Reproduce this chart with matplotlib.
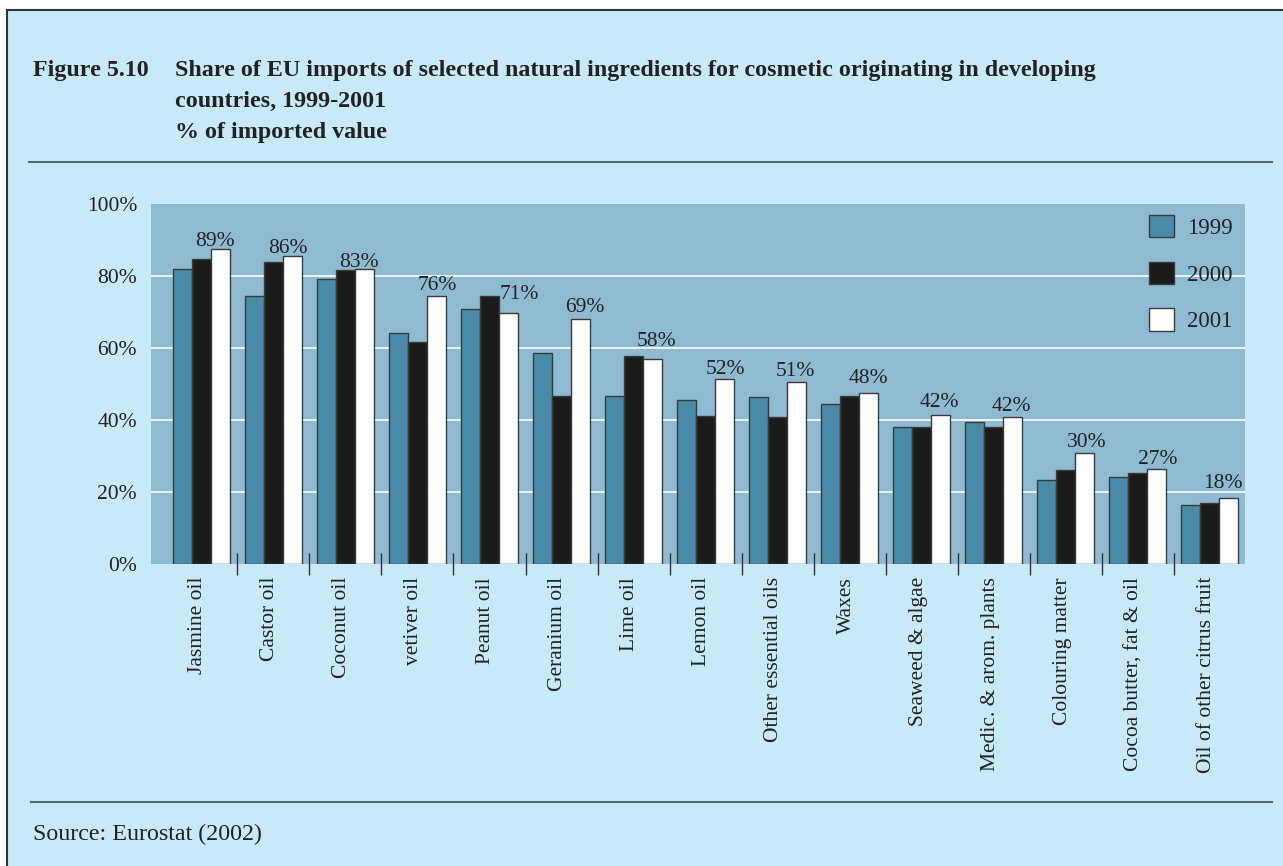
import matplotlib.pyplot as plt
import numpy as np
from matplotlib.patches import Rectangle
from matplotlib.lines import Line2D

# Values (% of imported value)
categories = ["Jasmine oil", "Castor oil", "Coconut oil", "vetiver oil", "Peanut oil",
              "Geranium oil", "Lime oil", "Lemon oil", "Other essential oils", "Waxes",
              "Seaweed & algae", "Medic. & arom. plants", "Colouring matter",
              "Cocoa butter, fat & oil", "Oil of other citrus fruit"]
y1999 = [81.9, 74.4, 79.1, 64.3, 70.9, 58.7, 46.6, 45.6, 46.4, 44.4, 38.1, 39.4, 23.2, 24.3, 16.4]
y2000 = [84.6, 83.9, 81.6, 61.7, 74.4, 46.8, 57.8, 41.0, 40.7, 46.6, 38.1, 38.1, 26.1, 25.2, 16.9]
y2001 = [87.4, 85.6, 81.9, 74.4, 69.8, 68.0, 56.9, 51.3, 50.5, 47.4, 41.3, 40.9, 30.7, 26.3, 18.4]
value_labels = ["89%", "86%", "83%", "76%", "71%", "69%", "58%", "52%", "51%", "48%",
                "42%", "42%", "30%", "27%", "18%"]
years = ["1999", "2000", "2001"]
yticks = [0, 20, 40, 60, 80, 100]

# small hand nudges of the value labels (pixels), as in the original layout
label_dx = [-5, -5, -6, 1, 11, 4, 4, 1, -1, 0, -1, -1, 2, 1, -6]
label_dy = [3, 3, 2, 6, 14, 7, 13, 5, 6, 10, 8, 6, 6, 5, 10]

bg = "#c7e9f8"
plot_bg = "#8fbbd2"
colors = ["#4a8ba8", "#1b1b1b", "#ffffff"]
serif = ["Liberation Serif", "DejaVu Serif"]
plt.rcParams["font.family"] = serif

W, H = 1283, 866
fig = plt.figure(figsize=(W / 100, H / 100), dpi=100, facecolor="white")

# light blue panel with border on top and left
fig.patches.append(Rectangle((7 / W, 0), 1 - 7 / W, 1 - 10 / H, transform=fig.transFigure,
                             facecolor=bg, edgecolor="none", zorder=-10))
fig.add_artist(Line2D([7 / W, 1], [1 - 10 / H, 1 - 10 / H], color="#333333", lw=1.5, zorder=-5))
fig.add_artist(Line2D([7 / W, 7 / W], [0, 1 - 10 / H], color="#333333", lw=1.5, zorder=-5))
# separators
fig.add_artist(Line2D([29 / W, 1272 / W], [1 - 162 / H] * 2, color="#5b656d", lw=1.5, zorder=-5))
fig.add_artist(Line2D([31 / W, 1272 / W], [1 - 802 / H] * 2, color="#5b656d", lw=1.5, zorder=-5))

# title block
fig.text(33 / W, 1 - 76 / H, "Figure 5.10", fontsize=17.3, fontweight="bold", color="#222222")
title_lines = ["Share of EU imports of selected natural ingredients for cosmetic originating in developing",
               "countries, 1999-2001",
               "% of imported value"]
for k, line in enumerate(title_lines):
    fig.text(175 / W, 1 - (76 + 31 * k) / H, line, fontsize=17.3, fontweight="bold", color="#222222")
fig.text(33 / W, 1 - 840 / H, "Source: Eurostat (2002)", fontsize=17.3, color="#222222")

ax = fig.add_axes([151 / W, 1 - 564 / H, 1094 / W, 360 / H])
ax.set_facecolor(plot_bg)

x = np.arange(len(categories))
w = 0.264
for j, (vals, year) in enumerate(zip([y1999, y2000, y2001], years)):
    ax.bar(x + (j - 1) * w, vals, width=w, color=colors[j], edgecolor="#3a3a3a",
           linewidth=1.0, label=year, zorder=3)

for i, lab in enumerate(value_labels):
    ax.annotate(lab, (x[i] + w, y2001[i]), xytext=(label_dx[i] * 0.72, label_dy[i] * 0.72),
                textcoords="offset points", ha="center", va="baseline",
                fontsize=15.5, color="#222222", zorder=4)

ax.set_xlim(-0.70, len(categories) - 0.51)
ax.set_ylim(0, 100)
ax.set_yticks(yticks)
ax.set_yticklabels([f"{v}%" for v in yticks], fontsize=15.5, color="#222222")
ax.tick_params(axis="y", length=0, pad=10)
for v in yticks[1:-1]:
    ax.axhline(v, color="white", lw=1.2, zorder=1)

# group separator ticks
ax.set_xticks(x[:-1] + 0.5)
ax.set_xticklabels([])
ax.tick_params(axis="x", direction="inout", length=16, width=1.0, color="#333333")
for i, cat in enumerate(categories):
    ax.text(x[i] - 0.05, -3.6, cat, rotation=90, ha="center", va="top",
            fontsize=15.5, color="#222222")

for s in ax.spines.values():
    s.set_visible(False)

leg = ax.legend(loc="upper left", bbox_to_anchor=(0.912, 0.97), frameon=False,
                fontsize=16.5, handlelength=1.12, handleheight=1.12, handletextpad=0.55,
                labelspacing=1.0, borderpad=0, borderaxespad=0)
for t in leg.get_texts():
    t.set_color("#222222")

fig.savefig("out.png", dpi=100, facecolor="white")
